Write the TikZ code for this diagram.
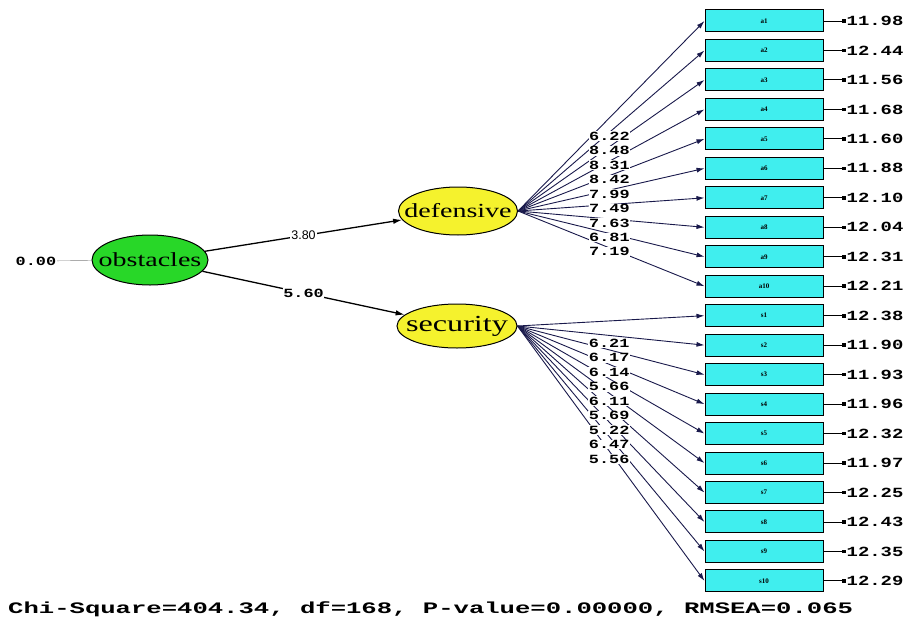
\documentclass[tikz,border=0pt]{standalone}
\usepackage{fontspec}
\setmainfont{Liberation Serif}
\newfontfamily\latfont[FakeStretch=1.4]{Liberation Serif}
\newfontfamily\numfont[FakeStretch=1.35]{Liberation Mono}
\newfontfamily\chifont[FakeStretch=1.6]{Liberation Mono}
\newfontfamily\lissans{Liberation Sans}
\usetikzlibrary{shapes.geometric,arrows.meta}

\begin{document}
\begin{tikzpicture}[x=1pt,y=-1pt,
  latent/.style={ellipse,draw=black,line width=1pt,inner xsep=-15pt,inner ysep=0pt,font=\latfont\fontsize{20}{20}\selectfont},
  obsbox/.style={rectangle,draw=black,line width=1pt,fill=boxcyan,minimum width=118pt,minimum height=22pt,inner sep=0pt,font=\bfseries\fontsize{7}{7}\selectfont},
  loadarrow/.style={draw=pathnavy,line width=0.9pt,-{Latex[length=8pt,width=5pt]}},
  causearrow/.style={draw=black,line width=1.3pt,-{Latex[length=9pt,width=5.5pt]}},
  est/.style={fill=white,inner sep=0.6pt,font=\numfont\bfseries\fontsize{12.5}{12.5}\selectfont},
  errval/.style={anchor=west,inner sep=1pt,font=\numfont\bfseries\fontsize{14}{14}\selectfont},
  errline/.style={draw=black,line width=0.9pt,{Rectangle[length=4pt,width=3.5pt]}-}]
\definecolor{boxcyan}{RGB}{64,238,238}
\definecolor{latgreen}{RGB}{40,215,40}
\definecolor{latyellow}{RGB}{245,242,45}
\definecolor{pathnavy}{RGB}{25,25,75}
\useasboundingbox (0,0) rectangle (917,623);
% latent variables
\node[latent,fill=latgreen,minimum width=116pt,minimum height=50pt] (obstacles) at (150,260) {obstacles};
\node[latent,fill=latyellow,minimum width=119pt,minimum height=48pt] (defensive) at (458,211) {defensive};
\node[latent,fill=latyellow,minimum width=120pt,minimum height=44pt,font=\latfont\fontsize{23}{23}\selectfont] (security) at (457,326) {security};
\node[est,fill=none] (zero) at (36,261) {0.00};
\draw[gray] (zero) -- (obstacles);
% structural paths
\draw[causearrow] (obstacles) -- (defensive) node[pos=.5,fill=white,inner sep=1pt,font=\lissans\fontsize{12.5}{12.5}\selectfont]{3.80};
\draw[causearrow] (obstacles) -- (security) node[est,pos=.5]{5.60};
% indicators
\foreach \i in {1,...,20}{
  \pgfmathsetmacro{\yy}{21+29.47*(\i-1)}
  \pgfmathtruncatemacro{\k}{\i>10 ? \i-10 : \i}
  \ifnum\i>10 \def\pre{s}\else\def\pre{a}\fi
  \node[obsbox] (b\i) at (764,\yy) {\pre\k};
}
% error variances
\foreach \v [count=\i] in {11.98,12.44,11.56,11.68,11.60,11.88,12.10,12.04,12.31,12.21,12.38,11.90,11.93,11.96,12.32,11.97,12.25,12.43,12.35,12.29}{
  \node[errval] (ev\i) at ([xshift=22pt]b\i.east) {\v};
  \draw[errline] (ev\i.west) -- (b\i.east);
}
% loadings
\foreach \i in {1,...,10}
  \draw[loadarrow] (defensive.east) -- (b\i.west);
\foreach \i in {11,...,20}
  \draw[loadarrow] (security.east) -- (b\i.west);
\foreach \v [count=\i from 2] in {6.22,8.48,8.31,8.42,7.99,7.49,7.63,6.81,7.19}
  \path (defensive.east) -- (b\i.west) node[est,pos=.49,yshift=-4pt]{\v};
\foreach \v [count=\i from 12] in {6.21,6.17,6.14,5.66,6.11,5.69,5.22,6.47,5.56}
  \path (security.east) -- (b\i.west) node[est,pos=.49,yshift=-8pt]{\v};
% fit statistics
\node[anchor=west,inner sep=0pt,font=\chifont\bfseries\fontsize{16}{16}\selectfont] (fit) at (8,609) {Chi-Square=404.34, df=168, P-value=0.00000, RMSEA=0.065};
\end{tikzpicture}
\end{document}
